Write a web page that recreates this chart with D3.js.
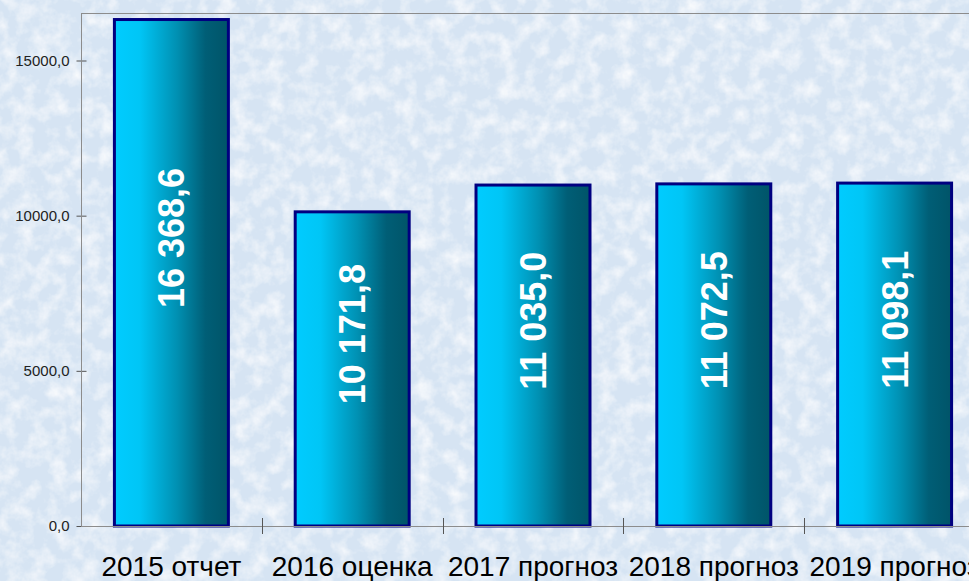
<!DOCTYPE html>
<html>
<head>
<meta charset="utf-8">
<script src="https://cdn.jsdelivr.net/npm/d3@7"></script>
<style>
html,body{margin:0;padding:0;overflow:hidden;background:#dde8f5;}
svg{display:block;}
</style>
</head>
<body>
<script>
const categories = ["2015 отчет", "2016 оценка", "2017 прогноз", "2018 прогноз", "2019 прогноз"];
const values = [16368.6, 10171.8, 11035.0, 11072.5, 11098.1];
const valueLabels = ["16 368,6", "10 171,8", "11 035,0", "11 072,5", "11 098,1"];
const yTicks = [0, 5000, 10000, 15000];

(function () {
const W = 969, H = 581;
const svg = d3.select("body").append("svg").attr("width", W).attr("height", H);
const defs = svg.append("defs");

// background texture
const f = defs.append("filter").attr("id", "tex").attr("x", 0).attr("y", 0).attr("width", 1).attr("height", 1);
f.append("feTurbulence").attr("type", "fractalNoise").attr("baseFrequency", 0.06).attr("numOctaves", 4).attr("seed", 7).attr("result", "n");
f.append("feColorMatrix").attr("in", "n").attr("type", "matrix")
  .attr("values", "0 0 0 0 1  0 0 0 0 1  0 0 0 0 1  0 0 0 1.5 -0.6").attr("result", "w");
f.append("feComposite").attr("in", "w").attr("in2", "SourceGraphic").attr("operator", "over");

svg.append("rect").attr("width", W).attr("height", H).attr("fill", "#d6e4f3").attr("filter", "url(#tex)");

const grad = defs.append("linearGradient").attr("id", "barGrad").attr("x1", "0%").attr("x2", "100%").attr("y1", "0%").attr("y2", "0%");
[["0%", "#00CCFF"], ["22%", "#00C6F6"], ["55%", "#0090B2"], ["80%", "#005E76"], ["100%", "#005468"]]
  .forEach(([o, c]) => grad.append("stop").attr("offset", o).attr("stop-color", c));

const pLeft = 81, pRight = 985, pTop = 13, pBottom = 526;
const x = d3.scaleBand().domain(categories).range([pLeft, pRight]).paddingInner(0.353).paddingOuter(0.1765);
const y = d3.scaleLinear().domain([0, 15000]).range([pBottom, 60.5]);

// plot border top
svg.append("line").attr("x1", pLeft).attr("x2", pRight).attr("y1", pTop + 0.5).attr("y2", pTop + 0.5)
  .attr("stroke", "#8c8c8c").attr("stroke-width", 1);

// bars
svg.selectAll("rect.bar").data(values).enter().append("rect").attr("class", "bar")
  .attr("x", (d, i) => x(categories[i]) + 1.5)
  .attr("width", x.bandwidth() - 3)
  .attr("y", d => y(d) + 1.5)
  .attr("height", d => pBottom - y(d) - 1.5)
  .attr("fill", "url(#barGrad)")
  .attr("stroke", "#000080").attr("stroke-width", 3);

// y axis
const yAxis = d3.axisLeft(y).tickValues(yTicks).tickSizeInner(5).tickSizeOuter(0)
  .tickFormat(d => d3.format(".1f")(d).replace(".", ","));
const gy = svg.append("g").attr("transform", `translate(${pLeft + 0.5},0)`).call(yAxis);
gy.select(".domain").remove();
gy.selectAll(".tick line").attr("x1", -5).attr("x2", 5).attr("stroke", "#555");
gy.selectAll(".tick text").attr("x", -12).attr("font-family", "Arial, 'Liberation Sans', sans-serif")
  .attr("font-size", 15).attr("fill", "#222");
svg.append("line").attr("x1", pLeft + 0.5).attr("x2", pLeft + 0.5).attr("y1", pTop).attr("y2", pBottom)
  .attr("stroke", "#8c8c8c");

// x axis
const gx = svg.append("g").attr("transform", `translate(0,${pBottom + 0.5})`).call(d3.axisBottom(x).tickSize(0).tickPadding(0));
gx.select(".domain").attr("d", `M${pLeft},0H${pRight}`).attr("stroke", "#8c8c8c");
gx.selectAll(".tick text").attr("y", 49).attr("dy", 0)
  .attr("font-family", "Arial, 'Liberation Sans', sans-serif").attr("font-size", 28).attr("fill", "#000");
const step = x.step();
const boundaries = categories.map((c, i) => pLeft + step * (i + 1));
svg.selectAll("line.ctick").data(boundaries).enter().append("line").attr("class", "ctick")
  .attr("x1", d => Math.round(d) + 0.5).attr("x2", d => Math.round(d) + 0.5)
  .attr("y1", pBottom - 8).attr("y2", pBottom + 8).attr("stroke", "#555");

// value labels
svg.selectAll("text.val").data(values).enter().append("text").attr("class", "val")
  .attr("transform", (d, i) => `translate(${x(categories[i]) + x.bandwidth() / 2},${(y(d) + pBottom) / 2 - 34}) rotate(-90)`)
  .attr("text-anchor", "middle").attr("dy", "0.36em")
  .attr("font-family", "Arial, 'Liberation Sans', sans-serif").attr("font-weight", "bold")
  .attr("font-size", 36).attr("fill", "#fff")
  .text((d, i) => valueLabels[i]);
})();
</script>
</body>
</html>
